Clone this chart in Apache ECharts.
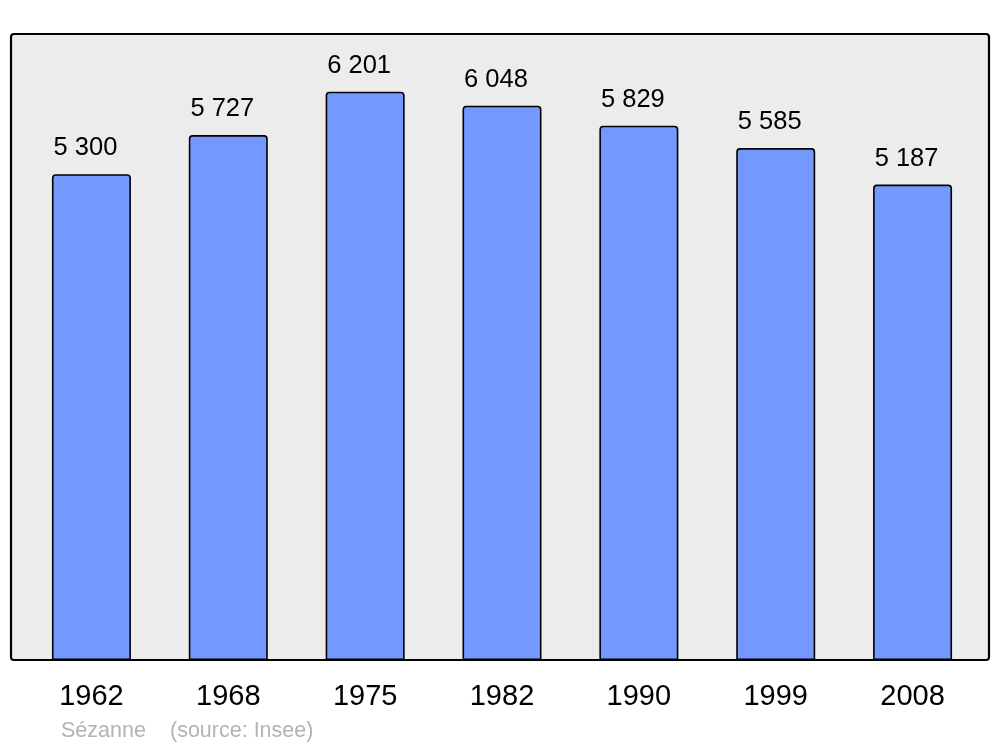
<!DOCTYPE html>
<html><head><meta charset="utf-8">
<script src="https://cdn.jsdelivr.net/npm/echarts@6/dist/echarts.min.js"></script>
<style>html,body{margin:0;padding:0;background:#fff}#c{width:1000px;height:747px}</style>
</head><body><div id="c"></div>
<script>
const years = ['1962','1968','1975','1982','1990','1999','2008'];
const population = [5300, 5727, 6201, 6048, 5829, 5585, 5187];
const townName = 'Sézanne';
const sourceText = '(source: Insee)';

const fmt = v => String(v).replace(/\B(?=(\d{3})+(?!\d))/g, ' ');
const chart = echarts.init(document.getElementById('c'));
chart.setOption({
  animation: false,
  textStyle: {fontFamily: 'Liberation Sans, Arial, sans-serif'},
  graphic: [
    {type: 'rect', z: 0, silent: true,
     shape: {x: 11, y: 34, width: 978, height: 626, r: 3},
     style: {fill: '#ececec', stroke: '#000', lineWidth: 2.2}},
    {type: 'text', left: 61, top: 720,
     style: {text: townName, fill: '#b3b3b3', font: '21.5px Liberation Sans, Arial, sans-serif'}},
    {type: 'text', left: 170, top: 720,
     style: {text: sourceText, fill: '#b3b3b3', font: '21.5px Liberation Sans, Arial, sans-serif'}}
  ],
  grid: {left: 23, right: 19, top: 34, bottom: 87},
  xAxis: {
    type: 'category', data: years,
    axisLine: {show: false}, axisTick: {show: false},
    axisLabel: {color: '#000', fontSize: 29, margin: 22}
  },
  yAxis: {
    type: 'value', min: 0, max: 6830,
    axisLine: {show: false}, axisTick: {show: false},
    axisLabel: {show: false}, splitLine: {show: false}
  },
  series: [{
    type: 'bar', data: population, barWidth: 79, z: 3,
    itemStyle: {color: '#7399ff', borderColor: '#000', borderWidth: 1.6, borderRadius: [3,3,0,0]},
    label: {show: true, position: 'top', distance: 13, offset: [-6, 0],
            color: '#000', fontSize: 25.5, formatter: p => fmt(p.value)}
  }]
});
</script></body></html>
